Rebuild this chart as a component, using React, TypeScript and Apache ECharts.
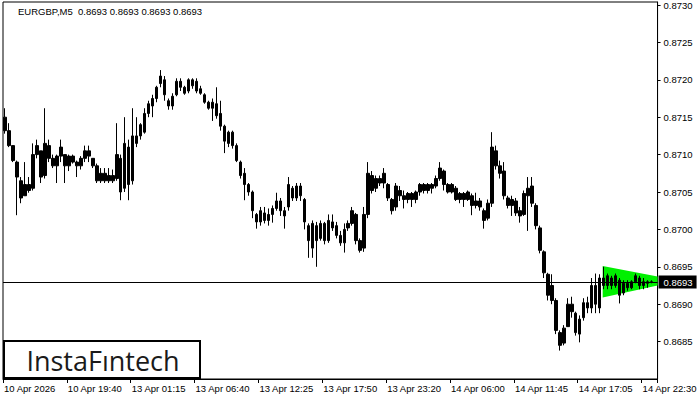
import React, { useEffect, useRef } from "react";
import * as echarts from "echarts";

const symbolTitle = "EURGBP,M5  0.8693 0.8693 0.8693 0.8693";
const tickLabels = [
  "10 Apr 2026", "10 Apr 19:40", "13 Apr 01:15", "13 Apr 06:40", "13 Apr 12:25",
  "13 Apr 17:50", "13 Apr 23:20", "14 Apr 06:00", "14 Apr 11:45", "14 Apr 17:05", "14 Apr 22:30",
];
const yTicks = { min: 0.868, max: 0.87304, step: 0.0005 };
const currentPrice = [0.8693];

const opens = [
  0.87150, 0.87132, 0.87112, 0.87090, 0.87065, 0.87045, 0.87060, 0.87055, 0.87100, 0.87105,
  0.87072, 0.87112, 0.87095, 0.87085, 0.87098, 0.87100, 0.87085, 0.87098, 0.87090, 0.87085,
  0.87095, 0.87105, 0.87095, 0.87085, 0.87065, 0.87075, 0.87065, 0.87072, 0.87068, 0.87095,
  0.87055, 0.87110, 0.87065, 0.87125, 0.87140, 0.87130, 0.87155, 0.87165, 0.87175, 0.87195,
  0.87200, 0.87172, 0.87165, 0.87180, 0.87198, 0.87190, 0.87185, 0.87200, 0.87198, 0.87188,
  0.87180, 0.87170, 0.87162, 0.87168, 0.87155, 0.87138, 0.87115, 0.87130, 0.87112, 0.87090,
  0.87075, 0.87060, 0.87050, 0.87020, 0.87010, 0.87022, 0.87012, 0.87020, 0.87028, 0.87038,
  0.87025, 0.87030, 0.87055, 0.87042, 0.87058, 0.87040, 0.87005, 0.86975, 0.87005, 0.86988,
  0.87008, 0.86985, 0.87010, 0.87005, 0.86992, 0.86982, 0.87002, 0.87008, 0.87020, 0.86985,
  0.86975, 0.87020, 0.87072, 0.87055, 0.87068, 0.87062, 0.87060, 0.87040, 0.87030, 0.87052,
  0.87045, 0.87040, 0.87048, 0.87040, 0.87050, 0.87060, 0.87052, 0.87060, 0.87058, 0.87068,
  0.87078, 0.87060, 0.87050, 0.87055, 0.87040, 0.87048, 0.87040, 0.87045, 0.87032, 0.87038,
  0.87025, 0.87015, 0.87035, 0.87105, 0.87085, 0.87078, 0.87042, 0.87032, 0.87038, 0.87025,
  0.87020, 0.87045, 0.87058, 0.87032, 0.87002, 0.86970, 0.86940, 0.86925, 0.86905, 0.86862,
  0.86848, 0.86870, 0.86900, 0.86888, 0.86860, 0.86882, 0.86902, 0.86895, 0.86925, 0.86895,
  0.86935, 0.86925, 0.86935, 0.86925, 0.86932, 0.86915, 0.86928, 0.86922, 0.86930, 0.86935,
  0.86925, 0.86928, 0.86930,
];
const closes = [
  0.87132, 0.87112, 0.87092, 0.87070, 0.87042, 0.87060, 0.87052, 0.87100, 0.87112, 0.87070,
  0.87115, 0.87095, 0.87085, 0.87098, 0.87110, 0.87085, 0.87098, 0.87090, 0.87085, 0.87095,
  0.87105, 0.87098, 0.87085, 0.87065, 0.87075, 0.87065, 0.87072, 0.87065, 0.87100, 0.87050,
  0.87115, 0.87060, 0.87125, 0.87115, 0.87125, 0.87155, 0.87168, 0.87175, 0.87190, 0.87205,
  0.87180, 0.87165, 0.87178, 0.87198, 0.87190, 0.87182, 0.87200, 0.87192, 0.87185, 0.87182,
  0.87170, 0.87162, 0.87170, 0.87152, 0.87138, 0.87118, 0.87130, 0.87112, 0.87092, 0.87072,
  0.87060, 0.87050, 0.87025, 0.87010, 0.87025, 0.87012, 0.87020, 0.87028, 0.87038, 0.87025,
  0.87018, 0.87060, 0.87042, 0.87058, 0.87045, 0.87010, 0.86985, 0.87008, 0.86985, 0.87008,
  0.86985, 0.87012, 0.87002, 0.86992, 0.86982, 0.87000, 0.87008, 0.87025, 0.86985, 0.86972,
  0.87020, 0.87075, 0.87052, 0.87068, 0.87062, 0.87075, 0.87042, 0.87025, 0.87058, 0.87045,
  0.87040, 0.87048, 0.87040, 0.87050, 0.87060, 0.87052, 0.87060, 0.87055, 0.87068, 0.87082,
  0.87060, 0.87050, 0.87060, 0.87040, 0.87048, 0.87040, 0.87050, 0.87032, 0.87038, 0.87030,
  0.87012, 0.87035, 0.87110, 0.87085, 0.87075, 0.87045, 0.87032, 0.87040, 0.87022, 0.87018,
  0.87048, 0.87055, 0.87035, 0.87005, 0.86972, 0.86942, 0.86912, 0.86905, 0.86865, 0.86845,
  0.86868, 0.86900, 0.86890, 0.86862, 0.86880, 0.86902, 0.86895, 0.86925, 0.86900, 0.86935,
  0.86925, 0.86938, 0.86925, 0.86938, 0.86912, 0.86928, 0.86922, 0.86930, 0.86938, 0.86925,
  0.86930, 0.86930, 0.86930,
];
const highs = [
  0.87162, 0.87142, 0.87112, 0.87092, 0.87070, 0.87090, 0.87070, 0.87115, 0.87120, 0.87105,
  0.87162, 0.87120, 0.87100, 0.87100, 0.87120, 0.87100, 0.87100, 0.87100, 0.87092, 0.87098,
  0.87112, 0.87112, 0.87095, 0.87088, 0.87082, 0.87082, 0.87082, 0.87080, 0.87142, 0.87100,
  0.87150, 0.87120, 0.87162, 0.87150, 0.87142, 0.87162, 0.87172, 0.87180, 0.87192, 0.87213,
  0.87205, 0.87175, 0.87182, 0.87202, 0.87202, 0.87192, 0.87202, 0.87202, 0.87202, 0.87192,
  0.87182, 0.87172, 0.87175, 0.87190, 0.87172, 0.87140, 0.87132, 0.87132, 0.87115, 0.87092,
  0.87082, 0.87062, 0.87052, 0.87022, 0.87030, 0.87030, 0.87028, 0.87032, 0.87049, 0.87042,
  0.87030, 0.87070, 0.87058, 0.87062, 0.87062, 0.87042, 0.87008, 0.87012, 0.87010, 0.87012,
  0.87010, 0.87020, 0.87020, 0.87010, 0.86998, 0.87008, 0.87012, 0.87030, 0.87022, 0.86988,
  0.87030, 0.87090, 0.87078, 0.87072, 0.87072, 0.87082, 0.87062, 0.87042, 0.87062, 0.87058,
  0.87052, 0.87050, 0.87050, 0.87052, 0.87062, 0.87062, 0.87062, 0.87062, 0.87072, 0.87090,
  0.87080, 0.87062, 0.87062, 0.87058, 0.87050, 0.87050, 0.87052, 0.87048, 0.87049, 0.87042,
  0.87028, 0.87040, 0.87130, 0.87112, 0.87092, 0.87090, 0.87045, 0.87045, 0.87042, 0.87030,
  0.87052, 0.87070, 0.87070, 0.87035, 0.87005, 0.86972, 0.86942, 0.86940, 0.86908, 0.86865,
  0.86872, 0.86908, 0.86910, 0.86890, 0.86885, 0.86908, 0.86910, 0.86935, 0.86941, 0.86940,
  0.86950, 0.86941, 0.86938, 0.86941, 0.86935, 0.86932, 0.86932, 0.86932, 0.86941, 0.86938,
  0.86935, 0.86932, 0.86932,
];
const lows = [
  0.87128, 0.87110, 0.87090, 0.87019, 0.87035, 0.87045, 0.87049, 0.87052, 0.87095, 0.87062,
  0.87068, 0.87090, 0.87082, 0.87062, 0.87090, 0.87062, 0.87078, 0.87088, 0.87070, 0.87080,
  0.87090, 0.87090, 0.87082, 0.87062, 0.87062, 0.87062, 0.87062, 0.87062, 0.87065, 0.87039,
  0.87050, 0.87039, 0.87060, 0.87110, 0.87120, 0.87128, 0.87150, 0.87150, 0.87170, 0.87190,
  0.87172, 0.87160, 0.87160, 0.87178, 0.87185, 0.87180, 0.87182, 0.87188, 0.87182, 0.87180,
  0.87168, 0.87160, 0.87145, 0.87148, 0.87132, 0.87102, 0.87110, 0.87108, 0.87090, 0.87068,
  0.87039, 0.87045, 0.87015, 0.87001, 0.87005, 0.87008, 0.87005, 0.87009, 0.87025, 0.87018,
  0.87001, 0.87025, 0.87038, 0.87038, 0.87038, 0.87000, 0.86962, 0.86962, 0.86950, 0.86985,
  0.86980, 0.86982, 0.86998, 0.86988, 0.86978, 0.86969, 0.86998, 0.87005, 0.86980, 0.86969,
  0.86970, 0.87015, 0.87048, 0.87050, 0.87058, 0.87055, 0.87038, 0.87020, 0.87025, 0.87038,
  0.87028, 0.87035, 0.87030, 0.87035, 0.87045, 0.87048, 0.87048, 0.87048, 0.87055, 0.87065,
  0.87052, 0.87048, 0.87048, 0.87038, 0.87035, 0.87030, 0.87038, 0.87019, 0.87028, 0.87025,
  0.87001, 0.87012, 0.87030, 0.87080, 0.87068, 0.87040, 0.87028, 0.87018, 0.87018, 0.87009,
  0.87018, 0.86998, 0.87030, 0.87000, 0.86968, 0.86935, 0.86905, 0.86900, 0.86860, 0.86838,
  0.86845, 0.86870, 0.86882, 0.86858, 0.86849, 0.86878, 0.86888, 0.86888, 0.86888, 0.86888,
  0.86920, 0.86920, 0.86920, 0.86922, 0.86901, 0.86912, 0.86918, 0.86920, 0.86928, 0.86920,
  0.86920, 0.86922, 0.86928,
];

// pattern triangle: [startIndex, endIndex, topStart, topEnd, bottomEnd, bottomStart]
const trianglePattern = [[150, 163, 0.86951, 0.86937, 0.86925, 0.86909]];

const slotCount = 164;
const labelEvery = 16;

export default function App() {
  const ref = useRef<HTMLDivElement>(null);
  useEffect(() => {
    if (!ref.current) return;
    const chart = echarts.init(ref.current, null, { renderer: "svg" });
    const categories = Array.from({ length: slotCount }, (_, i) =>
      i % labelEvery === 0 ? tickLabels[i / labelEvery] : String(i)
    );
    const candles = opens.map((o, i) => [o, closes[i], lows[i], highs[i]]);
    const font = '"Liberation Sans", Arial, sans-serif';
    const showIdx = (i: number) => i % labelEvery === 0;

    chart.setOption({
      animation: false,
      backgroundColor: "#fff",
      grid: { left: 3, top: 2, right: 41, bottom: 21, show: true, borderColor: "#000", borderWidth: 1 },
      xAxis: {
        type: "category",
        data: categories,
        boundaryGap: true,
        axisLine: { show: true, lineStyle: { color: "#000", width: 1 } },
        axisTick: { show: true, interval: showIdx, length: 4, lineStyle: { color: "#000" } },
        axisLabel: {
          interval: showIdx,
          formatter: (v: string, i: number) => (showIdx(i) ? tickLabels[i / labelEvery] : ""),
          align: "left",
          color: "#000",
          fontSize: 9.5,
          fontFamily: font,
          margin: 4,
          padding: [0, 0, 0, -1],
        },
        splitLine: { show: false },
      },
      yAxis: {
        type: "value",
        position: "right",
        min: yTicks.min,
        max: yTicks.max,
        interval: yTicks.step,
        scale: true,
        axisLine: { show: true, lineStyle: { color: "#000", width: 1 } },
        axisTick: { show: true, length: 3, lineStyle: { color: "#000" } },
        axisLabel: {
          showMinLabel: false,
          formatter: (v: number) => v.toFixed(4),
          color: "#000",
          fontSize: 9.5,
          fontFamily: font,
          margin: 6,
        },
        splitLine: { show: false },
      },
      graphic: [
        {
          type: "text",
          left: 18,
          top: 6,
          style: { text: symbolTitle, fill: "#000", font: `9.5px ${font}` },
          z: 10,
        },
        {
          type: "group",
          left: 3,
          top: 340,
          z: 20,
          children: [
            {
              type: "rect",
              shape: { x: 1, y: 1, width: 196, height: 37 },
              style: { fill: "#fff", stroke: "#000", lineWidth: 2 },
            },
            {
              type: "text",
              x: 100,
              y: 20,
              style: {
                text: "InstaFıntech",
                fill: "#1a1a1a",
                font: '500 27px "Open Sans", sans-serif',
                textAlign: "center",
                textVerticalAlign: "middle",
              },
            },
          ],
        },
      ],
      series: [
        {
          type: "custom",
          z: 1,
          silent: true,
          data: trianglePattern,
          encode: { x: 0, y: [2, 3, 4, 5] },
          renderItem: (params: any, api: any) => {
            const s = api.value(0);
            const e = api.value(1);
            const half = api.size([1, 0])[0] / 2;
            const tl = api.coord([s, api.value(2)]);
            const tr = api.coord([e, api.value(3)]);
            const br = api.coord([e, api.value(4)]);
            const bl = api.coord([s, api.value(5)]);
            return {
              type: "polygon",
              shape: {
                points: [
                  [tl[0] - half / 2, tl[1]],
                  [tr[0] + half, tr[1]],
                  [br[0] + half, br[1]],
                  [bl[0] - half / 2, bl[1]],
                ],
              },
              style: { fill: "#00f000" },
            };
          },
        },
        {
          type: "candlestick",
          z: 2,
          data: candles,
          barWidth: 3,
          itemStyle: {
            color: "#000",
            color0: "#000",
            borderColor: "#000",
            borderColor0: "#000",
            borderWidth: 1,
          },
        },
        {
          type: "custom",
          z: 3,
          silent: true,
          clip: false,
          data: currentPrice.map((p) => [0, p]),
          encode: { x: 0, y: 1 },
          renderItem: (params: any, api: any) => {
            const cs = params.coordSys;
            const y = Math.round(api.coord([0, api.value(1)])[1]) + 0.5;
            return {
              type: "group",
              children: [
                {
                  type: "line",
                  shape: { x1: cs.x, y1: y, x2: cs.x + cs.width, y2: y },
                  style: { stroke: "#000", lineWidth: 1 },
                },
                {
                  type: "rect",
                  shape: { x: cs.x + cs.width + 1, y: y - 7, width: 38, height: 13 },
                  style: { fill: "#000" },
                },
                {
                  type: "text",
                  x: cs.x + cs.width + 6,
                  y: y,
                  style: {
                    text: api.value(1).toFixed(4),
                    fill: "#fff",
                    font: `9.5px ${font}`,
                    textVerticalAlign: "middle",
                  },
                },
              ],
            };
          },
        },
      ],
    });
    return () => chart.dispose();
  }, []);
  return (
    <div
      ref={ref}
      style={{ position: "absolute", left: 0, top: 0, width: 700, height: 400 }}
    />
  );
}
